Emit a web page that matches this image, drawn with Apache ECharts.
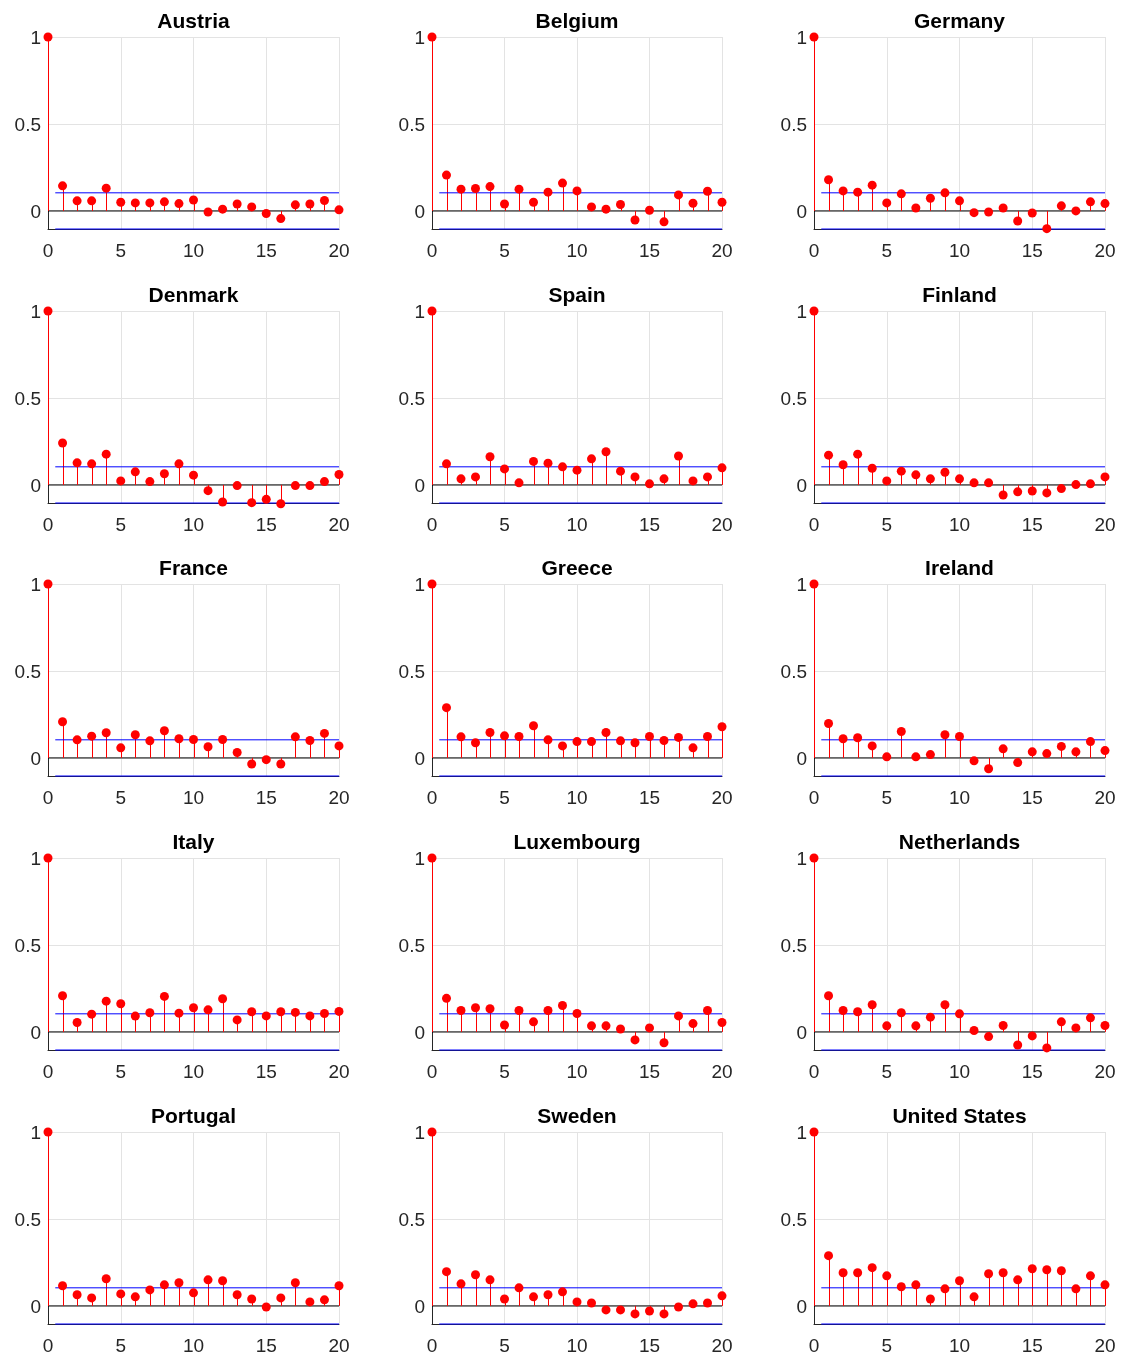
<!DOCTYPE html>
<html>
<head>
<meta charset="utf-8">
<title>Sample autocorrelation by country</title>
<script src="https://cdn.jsdelivr.net/npm/echarts@6/dist/echarts.min.js"></script>
<style>
  html, body { margin: 0; padding: 0; background: #ffffff; }
  #chart { width: 1121px; height: 1356px; }
</style>
</head>
<body>
<div id="chart"></div>
<script>
// Panel titles, in reading order (3 per row)
const COUNTRIES = [
  'Austria', 'Belgium', 'Germany',
  'Denmark', 'Spain', 'Finland',
  'France', 'Greece', 'Ireland',
  'Italy', 'Luxembourg', 'Netherlands',
  'Portugal', 'Sweden', 'United States'
];

// Axis ticks
const X_TICKS = [0, 5, 10, 15, 20];
const Y_TICKS = [0, 0.5, 1];

// Approximate 95% confidence bound and axis limits
const CONF_BOUND = 0.104;
const Y_MIN = -0.104;
const Y_MAX = 1;

// Sample autocorrelation, lags 0..20
const AUSTRIA     = [1, 0.144, 0.058, 0.058, 0.131, 0.050, 0.046, 0.046, 0.052, 0.042, 0.063, -0.006, 0.010, 0.040, 0.023, -0.015, -0.044, 0.035, 0.040, 0.060, 0.006];
const BELGIUM     = [1, 0.206, 0.125, 0.129, 0.140, 0.040, 0.125, 0.050, 0.108, 0.160, 0.115, 0.023, 0.010, 0.037, -0.052, 0.004, -0.063, 0.092, 0.044, 0.113, 0.050];
const GERMANY     = [1, 0.179, 0.115, 0.108, 0.148, 0.046, 0.098, 0.017, 0.073, 0.104, 0.058, -0.010, -0.006, 0.017, -0.058, -0.012, -0.102, 0.029, 0.000, 0.052, 0.042];
const DENMARK     = [1, 0.241, 0.127, 0.121, 0.177, 0.023, 0.075, 0.019, 0.064, 0.121, 0.056, -0.033, -0.098, -0.004, -0.102, -0.083, -0.108, -0.004, -0.004, 0.019, 0.060];
const SPAIN       = [1, 0.121, 0.035, 0.046, 0.162, 0.092, 0.012, 0.135, 0.125, 0.104, 0.085, 0.150, 0.191, 0.079, 0.046, 0.006, 0.035, 0.166, 0.023, 0.046, 0.098];
const FINLAND     = [1, 0.171, 0.116, 0.177, 0.096, 0.023, 0.079, 0.058, 0.035, 0.073, 0.035, 0.012, 0.012, -0.058, -0.040, -0.035, -0.046, -0.021, 0.002, 0.006, 0.046];
const FRANCE      = [1, 0.208, 0.104, 0.125, 0.145, 0.058, 0.133, 0.098, 0.156, 0.110, 0.106, 0.064, 0.106, 0.031, -0.035, -0.010, -0.035, 0.121, 0.100, 0.141, 0.069];
const GREECE      = [1, 0.289, 0.121, 0.087, 0.146, 0.127, 0.123, 0.185, 0.104, 0.069, 0.094, 0.094, 0.146, 0.098, 0.087, 0.123, 0.100, 0.118, 0.058, 0.123, 0.179];
const IRELAND     = [1, 0.198, 0.110, 0.116, 0.069, 0.006, 0.152, 0.006, 0.019, 0.133, 0.123, -0.017, -0.062, 0.052, -0.027, 0.035, 0.025, 0.066, 0.035, 0.094, 0.042];
const ITALY       = [1, 0.208, 0.054, 0.102, 0.177, 0.162, 0.091, 0.110, 0.204, 0.108, 0.139, 0.127, 0.191, 0.069, 0.116, 0.092, 0.116, 0.112, 0.092, 0.106, 0.118];
const LUXEMBOURG  = [1, 0.193, 0.123, 0.139, 0.133, 0.040, 0.123, 0.058, 0.123, 0.152, 0.106, 0.035, 0.035, 0.017, -0.046, 0.023, -0.062, 0.092, 0.048, 0.123, 0.054];
const NETHERLANDS = [1, 0.208, 0.123, 0.116, 0.156, 0.035, 0.110, 0.035, 0.085, 0.156, 0.104, 0.008, -0.027, 0.037, -0.075, -0.023, -0.092, 0.058, 0.023, 0.081, 0.037];
const PORTUGAL    = [1, 0.116, 0.064, 0.046, 0.156, 0.069, 0.052, 0.092, 0.121, 0.133, 0.075, 0.150, 0.145, 0.064, 0.040, -0.006, 0.046, 0.133, 0.023, 0.035, 0.116];
const SWEDEN      = [1, 0.197, 0.127, 0.179, 0.150, 0.040, 0.104, 0.052, 0.064, 0.081, 0.023, 0.017, -0.023, -0.023, -0.046, -0.029, -0.046, -0.006, 0.012, 0.017, 0.058];
const UNITED_STATES = [1, 0.289, 0.191, 0.191, 0.220, 0.173, 0.110, 0.121, 0.040, 0.098, 0.145, 0.052, 0.185, 0.191, 0.150, 0.214, 0.208, 0.202, 0.098, 0.173, 0.121];

const ACF = [
  AUSTRIA, BELGIUM, GERMANY,
  DENMARK, SPAIN, FINLAND,
  FRANCE, GREECE, IRELAND,
  ITALY, LUXEMBOURG, NETHERLANDS,
  PORTUGAL, SWEDEN, UNITED_STATES
];

// Layout of the 3 x 5 panel grid (pixels)
const COL_LEFT = [48, 432, 814];
const COL_WIDTH = [291, 290, 291];
const ROW_TOP = [37, 311, 584, 858, 1132];
const PANEL_HEIGHT = 192;

const FONT = 'Liberation Sans, Arial, Helvetica, sans-serif';
const INK = '#262626';

const grids = [], xAxes = [], yAxes = [], titles = [], series = [];

COUNTRIES.forEach((name, k) => {
  const col = k % 3, row = Math.floor(k / 3);
  const left = COL_LEFT[col], width = COL_WIDTH[col], top = ROW_TOP[row];
  grids.push({ left: left, top: top, width: width, height: PANEL_HEIGHT, containLabel: false });

  titles.push({
    text: name,
    left: left + width / 2,
    top: top - 25,
    textAlign: 'center',
    padding: 0,
    textStyle: { fontFamily: FONT, fontSize: 21, fontWeight: 'bold', color: '#000000' }
  });

  xAxes.push({
    gridIndex: k, type: 'value', min: X_TICKS[0], max: X_TICKS[X_TICKS.length - 1], interval: 5,
    axisLine: { show: true, onZero: false, lineStyle: { color: INK, width: 1 } },
    axisTick: { show: false },
    axisLabel: { color: INK, fontFamily: FONT, fontSize: 19, margin: 13 },
    splitLine: { show: true, lineStyle: { color: '#e3e3e3', width: 1 } }
  });

  yAxes.push({
    gridIndex: k, type: 'value', min: Y_MIN, max: Y_MAX,
    axisLine: { show: true, onZero: false, lineStyle: { color: INK, width: 1 } },
    axisTick: { show: false, customValues: Y_TICKS },
    axisLabel: {
      color: INK, fontFamily: FONT, fontSize: 19, margin: 7, customValues: Y_TICKS,
      formatter: v => '{t|' + String(v) + '}',
      rich: { t: { color: INK, fontFamily: FONT, fontSize: 19, padding: [4, 0, 0, 0] } }
    },
    splitLine: { show: true, lineStyle: { color: '#e3e3e3', width: 1 } }
  });

  const pts = ACF[k].map((v, lag) => [lag, v]);

  // Zero reference line
  series.push({
    type: 'line', xAxisIndex: k, yAxisIndex: k, silent: true, symbol: 'none', z: 3,
    data: [[X_TICKS[0], 0], [X_TICKS[X_TICKS.length - 1], 0]],
    lineStyle: { color: '#000000', width: 1 }
  });

  // Stems (snapped to the pixel grid so they stay crisp)
  series.push({
    type: 'custom', xAxisIndex: k, yAxisIndex: k, silent: true, z: 4, clip: false,
    data: pts,
    renderItem: (params, api) => {
      const p0 = api.coord([api.value(0), 0]);
      const p1 = api.coord([api.value(0), api.value(1)]);
      const x = Math.round(p0[0]) + 0.5;
      return {
        type: 'line',
        shape: { x1: x, y1: p0[1], x2: x, y2: p1[1] },
        style: { stroke: '#ff0000', lineWidth: 1 }
      };
    }
  });

  // Confidence bounds
  [CONF_BOUND, -CONF_BOUND].forEach(b => {
    series.push({
      type: 'line', xAxisIndex: k, yAxisIndex: k, silent: true, symbol: 'none', z: 5, clip: false,
      data: [[0.5, b], [X_TICKS[X_TICKS.length - 1], b]],
      lineStyle: { color: '#0000ff', width: 1 }
    });
  });

  // Stem heads
  series.push({
    type: 'scatter', xAxisIndex: k, yAxisIndex: k, silent: true, z: 6, clip: false,
    data: pts, symbol: 'circle', symbolSize: 9,
    itemStyle: { color: '#ff0000', opacity: 1 }
  });
});

const chart = echarts.init(document.getElementById('chart'), null, { renderer: 'canvas' });
chart.setOption({
  backgroundColor: '#ffffff',
  animation: false,
  title: titles,
  grid: grids,
  xAxis: xAxes,
  yAxis: yAxes,
  series: series
});
</script>
</body>
</html>
